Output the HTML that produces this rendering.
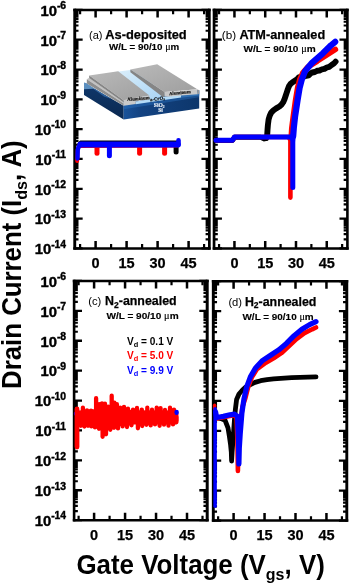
<!DOCTYPE html>
<html lang="en"><head><meta charset="utf-8"><title>Transfer curves</title>
<style>
html,body{margin:0;padding:0;background:#fff;}
body{width:350px;height:586px;overflow:hidden;}
svg{display:block;}
text{font-family:"Liberation Sans", Arial, Helvetica, sans-serif;font-weight:bold;fill:#000;}
.yt{font-size:14.6px;stroke:#000;stroke-width:0.4px;}
.sup{font-size:10.2px;}
.xt{font-size:14.5px;stroke:#000;stroke-width:0.25px;}
.ax{font-size:26px;}
.sub{font-size:17px;}
.pl{font-size:12.6px;stroke:#000;stroke-width:0.25px;}
.pn{font-size:11.7px;font-weight:normal;}
.wl{font-size:9.8px;stroke:#000;stroke-width:0.15px;}
.mu{font-family:"Liberation Serif","DejaVu Serif",serif;font-weight:normal;font-size:10px;}
.lg{font-size:10.1px;}
.ins{font-family:"Liberation Serif",serif;font-size:4.7px;fill:#111;stroke:#111;stroke-width:0.18px;}
.ins2{font-family:"Liberation Serif",serif;font-size:5.6px;fill:#eef4fb;stroke:#eef4fb;stroke-width:0.15px;}
</style></head><body>
<svg width="350" height="586" viewBox="0 0 350 586">
<rect width="350" height="586" fill="#fff"/>
<g id="inset"><defs><linearGradient id="gf" x1="0" y1="0" x2="1" y2="0"><stop offset="0" stop-color="#19539b"/><stop offset="0.22" stop-color="#134382"/><stop offset="1" stop-color="#0d366b"/></linearGradient><linearGradient id="gs" x1="0" y1="0" x2="0" y2="1"><stop offset="0" stop-color="#10386c"/><stop offset="1" stop-color="#0a2850"/></linearGradient><linearGradient id="gt" x1="0" y1="0" x2="1" y2="1"><stop offset="0" stop-color="#b9b9b9"/><stop offset="1" stop-color="#9f9f9f"/></linearGradient><linearGradient id="gc" x1="0" y1="0" x2="1" y2="1"><stop offset="0" stop-color="#dcf0fc"/><stop offset="1" stop-color="#a6d2f3"/></linearGradient></defs>
<polygon points="84,83 123.7,105.8 123.7,119.4 84,95" fill="url(#gs)"/>
<polygon points="123.7,101 199.2,90 199.2,108.6 123.7,119.4" fill="url(#gf)"/>
<polygon points="123.7,101 199.2,90 199.2,97.2 123.7,109.2" fill="rgba(48,120,200,0.38)"/>
<polygon points="181,94.6 199.2,91.2 199.2,95.6 181,97.8" fill="#2f6fb2"/>
<polygon points="84,82.4 86.8,83.2 94.5,88.4 93,88.8 84,89.2" fill="#5b8fbf"/>
<polygon points="94.5,88.4 112,99.2 104,96.4 93,88.8" fill="#2c5f9a"/>
<polygon points="115,72 134,69.4 167,95.6 148,100.2" fill="url(#gc)"/>
<polygon points="135.7,101.5 149.4,99.2 164.6,96.8 181,94.5 181,97.6 135.7,104.2" fill="#b4dbf7"/>
<polygon points="86.8,79.2 89.2,77.8 123.7,102.6 123.7,103.4" fill="#c2c2c2"/>
<polygon points="86.8,79.2 123.7,103.4 123.7,105.8 86.8,83.4" fill="#8e8e8e"/>
<polygon points="89.2,75.6 118.2,71.3 149.4,95.6 123.7,100.3" fill="url(#gt)"/>
<polygon points="123.7,100.3 149.4,95.6 149.4,99.4 135.7,101.6 135.7,104.1 123.7,105.8" fill="#c9c9c9"/>
<polygon points="89.2,75.6 123.7,100.3 123.7,102.6 89.2,78.0" fill="#858585"/>
<polygon points="130.4,69.6 157.2,64.3 197.3,89.3 164.6,92" fill="url(#gt)"/>
<polygon points="164.6,92 197.3,89.3 197.7,94.3 181,95.4 168.6,96.8 164.6,96.6" fill="#c9c9c9"/>
<polygon points="130.4,69.6 164.6,92 164.6,96.8 162.8,97 130.4,72.2" fill="#858585"/>
<polygon points="197.3,89.3 199.2,90.2 199.2,93.8 197.7,94.3" fill="#9a9a9a"/>
<text x="138.5" y="100.1" class="ins" text-anchor="middle" transform="rotate(-5 138.5 100.1)" style="font-size:4.9px">Aluminum</text>
<text x="180" y="94.2" class="ins" text-anchor="middle" transform="rotate(-5 180 94.2)">Aluminum</text>
<text x="157.6" y="100.2" class="ins" text-anchor="middle" transform="rotate(-8 157.6 100.2)">a-CrO<tspan font-size="3.2" dy="0.9">x</tspan></text>
<text x="159.2" y="106.9" class="ins2" text-anchor="middle">SiO<tspan font-size="3.6" dy="0.9">2</tspan></text>
<text x="160.6" y="112.4" class="ins2" text-anchor="middle">Si</text></g>
<g id="fa"><path d="M74.75 248.40h7.9M209.35 248.40h-7.9M74.75 218.59h7.9M209.35 218.59h-7.9M74.75 188.78h7.9M209.35 188.78h-7.9M74.75 158.96h7.9M209.35 158.96h-7.9M74.75 129.15h7.9M209.35 129.15h-7.9M74.75 99.34h7.9M209.35 99.34h-7.9M74.75 69.53h7.9M209.35 69.53h-7.9M74.75 39.71h7.9M209.35 39.71h-7.9M74.75 9.90h7.9M209.35 9.90h-7.9" stroke="#000" stroke-width="2.3" fill="none"/>
<path d="M74.75 239.43h3.75M209.35 239.43h-3.75M74.75 234.18h3.75M209.35 234.18h-3.75M74.75 230.45h3.75M209.35 230.45h-3.75M74.75 227.56h3.75M209.35 227.56h-3.75M74.75 225.20h3.75M209.35 225.20h-3.75M74.75 223.21h3.75M209.35 223.21h-3.75M74.75 221.48h3.75M209.35 221.48h-3.75M74.75 219.95h3.75M209.35 219.95h-3.75M74.75 209.61h3.75M209.35 209.61h-3.75M74.75 204.36h3.75M209.35 204.36h-3.75M74.75 200.64h3.75M209.35 200.64h-3.75M74.75 197.75h3.75M209.35 197.75h-3.75M74.75 195.39h3.75M209.35 195.39h-3.75M74.75 193.39h3.75M209.35 193.39h-3.75M74.75 191.66h3.75M209.35 191.66h-3.75M74.75 190.14h3.75M209.35 190.14h-3.75M74.75 179.80h3.75M209.35 179.80h-3.75M74.75 174.55h3.75M209.35 174.55h-3.75M74.75 170.83h3.75M209.35 170.83h-3.75M74.75 167.94h3.75M209.35 167.94h-3.75M74.75 165.58h3.75M209.35 165.58h-3.75M74.75 163.58h3.75M209.35 163.58h-3.75M74.75 161.85h3.75M209.35 161.85h-3.75M74.75 160.33h3.75M209.35 160.33h-3.75M74.75 149.99h3.75M209.35 149.99h-3.75M74.75 144.74h3.75M209.35 144.74h-3.75M74.75 141.01h3.75M209.35 141.01h-3.75M74.75 138.12h3.75M209.35 138.12h-3.75M74.75 135.76h3.75M209.35 135.76h-3.75M74.75 133.77h3.75M209.35 133.77h-3.75M74.75 132.04h3.75M209.35 132.04h-3.75M74.75 130.51h3.75M209.35 130.51h-3.75M74.75 120.18h3.75M209.35 120.18h-3.75M74.75 114.93h3.75M209.35 114.93h-3.75M74.75 111.20h3.75M209.35 111.20h-3.75M74.75 108.31h3.75M209.35 108.31h-3.75M74.75 105.95h3.75M209.35 105.95h-3.75M74.75 103.96h3.75M209.35 103.96h-3.75M74.75 102.23h3.75M209.35 102.23h-3.75M74.75 100.70h3.75M209.35 100.70h-3.75M74.75 90.36h3.75M209.35 90.36h-3.75M74.75 85.11h3.75M209.35 85.11h-3.75M74.75 81.39h3.75M209.35 81.39h-3.75M74.75 78.50h3.75M209.35 78.50h-3.75M74.75 76.14h3.75M209.35 76.14h-3.75M74.75 74.14h3.75M209.35 74.14h-3.75M74.75 72.41h3.75M209.35 72.41h-3.75M74.75 70.89h3.75M209.35 70.89h-3.75M74.75 60.55h3.75M209.35 60.55h-3.75M74.75 55.30h3.75M209.35 55.30h-3.75M74.75 51.58h3.75M209.35 51.58h-3.75M74.75 48.69h3.75M209.35 48.69h-3.75M74.75 46.33h3.75M209.35 46.33h-3.75M74.75 44.33h3.75M209.35 44.33h-3.75M74.75 42.60h3.75M209.35 42.60h-3.75M74.75 41.08h3.75M209.35 41.08h-3.75M74.75 30.74h3.75M209.35 30.74h-3.75M74.75 25.49h3.75M209.35 25.49h-3.75M74.75 21.76h3.75M209.35 21.76h-3.75M74.75 18.87h3.75M209.35 18.87h-3.75M74.75 16.51h3.75M209.35 16.51h-3.75M74.75 14.52h3.75M209.35 14.52h-3.75M74.75 12.79h3.75M209.35 12.79h-3.75M74.75 11.26h3.75M209.35 11.26h-3.75" stroke="#000" stroke-width="2.2" fill="none"/>
<path d="M95.60 9.90v7.5M95.60 248.40v-7.5M126.60 9.90v7.5M126.60 248.40v-7.5M157.60 9.90v7.5M157.60 248.40v-7.5M188.60 9.90v7.5M188.60 248.40v-7.5" stroke="#000" stroke-width="2.5" fill="none"/>
<path d="M80.10 9.90v4.3M80.10 248.40v-4.3M111.10 9.90v4.3M111.10 248.40v-4.3M142.10 9.90v4.3M142.10 248.40v-4.3M173.10 9.90v4.3M173.10 248.40v-4.3M204.10 9.90v4.3M204.10 248.40v-4.3" stroke="#000" stroke-width="2.2" fill="none"/>
<path d="M74.75 8.68V249.62" stroke="#000" stroke-width="2.9" fill="none"/>
<path d="M209.35 8.68V249.62" stroke="#000" stroke-width="2.7" fill="none"/>
<path d="M73.30 9.90H210.70M73.30 248.40H210.70" stroke="#000" stroke-width="2.45" fill="none"/></g>
<g id="fb"><path d="M214.05 248.40h7.9M347.40 248.40h-7.9M214.05 218.59h7.9M347.40 218.59h-7.9M214.05 188.78h7.9M347.40 188.78h-7.9M214.05 158.96h7.9M347.40 158.96h-7.9M214.05 129.15h7.9M347.40 129.15h-7.9M214.05 99.34h7.9M347.40 99.34h-7.9M214.05 69.53h7.9M347.40 69.53h-7.9M214.05 39.71h7.9M347.40 39.71h-7.9M214.05 9.90h7.9M347.40 9.90h-7.9" stroke="#000" stroke-width="2.3" fill="none"/>
<path d="M214.05 239.43h3.75M347.40 239.43h-3.75M214.05 234.18h3.75M347.40 234.18h-3.75M214.05 230.45h3.75M347.40 230.45h-3.75M214.05 227.56h3.75M347.40 227.56h-3.75M214.05 225.20h3.75M347.40 225.20h-3.75M214.05 223.21h3.75M347.40 223.21h-3.75M214.05 221.48h3.75M347.40 221.48h-3.75M214.05 219.95h3.75M347.40 219.95h-3.75M214.05 209.61h3.75M347.40 209.61h-3.75M214.05 204.36h3.75M347.40 204.36h-3.75M214.05 200.64h3.75M347.40 200.64h-3.75M214.05 197.75h3.75M347.40 197.75h-3.75M214.05 195.39h3.75M347.40 195.39h-3.75M214.05 193.39h3.75M347.40 193.39h-3.75M214.05 191.66h3.75M347.40 191.66h-3.75M214.05 190.14h3.75M347.40 190.14h-3.75M214.05 179.80h3.75M347.40 179.80h-3.75M214.05 174.55h3.75M347.40 174.55h-3.75M214.05 170.83h3.75M347.40 170.83h-3.75M214.05 167.94h3.75M347.40 167.94h-3.75M214.05 165.58h3.75M347.40 165.58h-3.75M214.05 163.58h3.75M347.40 163.58h-3.75M214.05 161.85h3.75M347.40 161.85h-3.75M214.05 160.33h3.75M347.40 160.33h-3.75M214.05 149.99h3.75M347.40 149.99h-3.75M214.05 144.74h3.75M347.40 144.74h-3.75M214.05 141.01h3.75M347.40 141.01h-3.75M214.05 138.12h3.75M347.40 138.12h-3.75M214.05 135.76h3.75M347.40 135.76h-3.75M214.05 133.77h3.75M347.40 133.77h-3.75M214.05 132.04h3.75M347.40 132.04h-3.75M214.05 130.51h3.75M347.40 130.51h-3.75M214.05 120.18h3.75M347.40 120.18h-3.75M214.05 114.93h3.75M347.40 114.93h-3.75M214.05 111.20h3.75M347.40 111.20h-3.75M214.05 108.31h3.75M347.40 108.31h-3.75M214.05 105.95h3.75M347.40 105.95h-3.75M214.05 103.96h3.75M347.40 103.96h-3.75M214.05 102.23h3.75M347.40 102.23h-3.75M214.05 100.70h3.75M347.40 100.70h-3.75M214.05 90.36h3.75M347.40 90.36h-3.75M214.05 85.11h3.75M347.40 85.11h-3.75M214.05 81.39h3.75M347.40 81.39h-3.75M214.05 78.50h3.75M347.40 78.50h-3.75M214.05 76.14h3.75M347.40 76.14h-3.75M214.05 74.14h3.75M347.40 74.14h-3.75M214.05 72.41h3.75M347.40 72.41h-3.75M214.05 70.89h3.75M347.40 70.89h-3.75M214.05 60.55h3.75M347.40 60.55h-3.75M214.05 55.30h3.75M347.40 55.30h-3.75M214.05 51.58h3.75M347.40 51.58h-3.75M214.05 48.69h3.75M347.40 48.69h-3.75M214.05 46.33h3.75M347.40 46.33h-3.75M214.05 44.33h3.75M347.40 44.33h-3.75M214.05 42.60h3.75M347.40 42.60h-3.75M214.05 41.08h3.75M347.40 41.08h-3.75M214.05 30.74h3.75M347.40 30.74h-3.75M214.05 25.49h3.75M347.40 25.49h-3.75M214.05 21.76h3.75M347.40 21.76h-3.75M214.05 18.87h3.75M347.40 18.87h-3.75M214.05 16.51h3.75M347.40 16.51h-3.75M214.05 14.52h3.75M347.40 14.52h-3.75M214.05 12.79h3.75M347.40 12.79h-3.75M214.05 11.26h3.75M347.40 11.26h-3.75" stroke="#000" stroke-width="2.2" fill="none"/>
<path d="M234.45 9.90v7.5M234.45 248.40v-7.5M265.22 9.90v7.5M265.22 248.40v-7.5M295.99 9.90v7.5M295.99 248.40v-7.5M326.76 9.90v7.5M326.76 248.40v-7.5" stroke="#000" stroke-width="2.5" fill="none"/>
<path d="M219.06 9.90v4.3M219.06 248.40v-4.3M249.83 9.90v4.3M249.83 248.40v-4.3M280.61 9.90v4.3M280.61 248.40v-4.3M311.38 9.90v4.3M311.38 248.40v-4.3M342.14 9.90v4.3M342.14 248.40v-4.3" stroke="#000" stroke-width="2.2" fill="none"/>
<path d="M214.05 8.68V249.62" stroke="#000" stroke-width="2.7" fill="none"/>
<path d="M347.40 8.68V249.62" stroke="#000" stroke-width="2.6" fill="none"/>
<path d="M212.70 9.90H348.70M212.70 248.40H348.70" stroke="#000" stroke-width="2.45" fill="none"/></g>
<g id="fc"><path d="M74.10 520.15h7.9M207.20 520.15h-7.9M74.10 490.25h7.9M207.20 490.25h-7.9M74.10 460.35h7.9M207.20 460.35h-7.9M74.10 430.45h7.9M207.20 430.45h-7.9M74.10 400.55h7.9M207.20 400.55h-7.9M74.10 370.65h7.9M207.20 370.65h-7.9M74.10 340.75h7.9M207.20 340.75h-7.9M74.10 310.85h7.9M207.20 310.85h-7.9M74.10 280.95h7.9M207.20 280.95h-7.9" stroke="#000" stroke-width="2.3" fill="none"/>
<path d="M74.10 511.15h3.75M207.20 511.15h-3.75M74.10 505.88h3.75M207.20 505.88h-3.75M74.10 502.15h3.75M207.20 502.15h-3.75M74.10 499.25h3.75M207.20 499.25h-3.75M74.10 496.88h3.75M207.20 496.88h-3.75M74.10 494.88h3.75M207.20 494.88h-3.75M74.10 493.15h3.75M207.20 493.15h-3.75M74.10 491.62h3.75M207.20 491.62h-3.75M74.10 481.25h3.75M207.20 481.25h-3.75M74.10 475.98h3.75M207.20 475.98h-3.75M74.10 472.25h3.75M207.20 472.25h-3.75M74.10 469.35h3.75M207.20 469.35h-3.75M74.10 466.98h3.75M207.20 466.98h-3.75M74.10 464.98h3.75M207.20 464.98h-3.75M74.10 463.25h3.75M207.20 463.25h-3.75M74.10 461.72h3.75M207.20 461.72h-3.75M74.10 451.35h3.75M207.20 451.35h-3.75M74.10 446.08h3.75M207.20 446.08h-3.75M74.10 442.35h3.75M207.20 442.35h-3.75M74.10 439.45h3.75M207.20 439.45h-3.75M74.10 437.08h3.75M207.20 437.08h-3.75M74.10 435.08h3.75M207.20 435.08h-3.75M74.10 433.35h3.75M207.20 433.35h-3.75M74.10 431.82h3.75M207.20 431.82h-3.75M74.10 421.45h3.75M207.20 421.45h-3.75M74.10 416.18h3.75M207.20 416.18h-3.75M74.10 412.45h3.75M207.20 412.45h-3.75M74.10 409.55h3.75M207.20 409.55h-3.75M74.10 407.18h3.75M207.20 407.18h-3.75M74.10 405.18h3.75M207.20 405.18h-3.75M74.10 403.45h3.75M207.20 403.45h-3.75M74.10 401.92h3.75M207.20 401.92h-3.75M74.10 391.55h3.75M207.20 391.55h-3.75M74.10 386.28h3.75M207.20 386.28h-3.75M74.10 382.55h3.75M207.20 382.55h-3.75M74.10 379.65h3.75M207.20 379.65h-3.75M74.10 377.28h3.75M207.20 377.28h-3.75M74.10 375.28h3.75M207.20 375.28h-3.75M74.10 373.55h3.75M207.20 373.55h-3.75M74.10 372.02h3.75M207.20 372.02h-3.75M74.10 361.65h3.75M207.20 361.65h-3.75M74.10 356.38h3.75M207.20 356.38h-3.75M74.10 352.65h3.75M207.20 352.65h-3.75M74.10 349.75h3.75M207.20 349.75h-3.75M74.10 347.38h3.75M207.20 347.38h-3.75M74.10 345.38h3.75M207.20 345.38h-3.75M74.10 343.65h3.75M207.20 343.65h-3.75M74.10 342.12h3.75M207.20 342.12h-3.75M74.10 331.75h3.75M207.20 331.75h-3.75M74.10 326.48h3.75M207.20 326.48h-3.75M74.10 322.75h3.75M207.20 322.75h-3.75M74.10 319.85h3.75M207.20 319.85h-3.75M74.10 317.48h3.75M207.20 317.48h-3.75M74.10 315.48h3.75M207.20 315.48h-3.75M74.10 313.75h3.75M207.20 313.75h-3.75M74.10 312.22h3.75M207.20 312.22h-3.75M74.10 301.85h3.75M207.20 301.85h-3.75M74.10 296.58h3.75M207.20 296.58h-3.75M74.10 292.85h3.75M207.20 292.85h-3.75M74.10 289.95h3.75M207.20 289.95h-3.75M74.10 287.58h3.75M207.20 287.58h-3.75M74.10 285.58h3.75M207.20 285.58h-3.75M74.10 283.85h3.75M207.20 283.85h-3.75M74.10 282.32h3.75M207.20 282.32h-3.75" stroke="#000" stroke-width="2.2" fill="none"/>
<path d="M94.10 280.95v7.5M94.10 520.15v-7.5M125.07 280.95v7.5M125.07 520.15v-7.5M156.04 280.95v7.5M156.04 520.15v-7.5M187.01 280.95v7.5M187.01 520.15v-7.5" stroke="#000" stroke-width="2.5" fill="none"/>
<path d="M78.61 280.95v4.3M78.61 520.15v-4.3M109.58 280.95v4.3M109.58 520.15v-4.3M140.56 280.95v4.3M140.56 520.15v-4.3M171.52 280.95v4.3M171.52 520.15v-4.3M202.50 280.95v4.3M202.50 520.15v-4.3" stroke="#000" stroke-width="2.2" fill="none"/>
<path d="M74.10 279.72V521.38" stroke="#000" stroke-width="2.6" fill="none"/>
<path d="M207.20 279.72V521.38" stroke="#000" stroke-width="3.0" fill="none"/>
<path d="M72.80 280.95H208.70M72.80 520.15H208.70" stroke="#000" stroke-width="2.45" fill="none"/></g>
<g id="fd"><path d="M213.30 520.55h7.9M346.80 520.55h-7.9M213.30 490.63h7.9M346.80 490.63h-7.9M213.30 460.71h7.9M346.80 460.71h-7.9M213.30 430.79h7.9M346.80 430.79h-7.9M213.30 400.88h7.9M346.80 400.88h-7.9M213.30 370.96h7.9M346.80 370.96h-7.9M213.30 341.04h7.9M346.80 341.04h-7.9M213.30 311.12h7.9M346.80 311.12h-7.9M213.30 281.20h7.9M346.80 281.20h-7.9" stroke="#000" stroke-width="2.3" fill="none"/>
<path d="M213.30 511.54h3.75M346.80 511.54h-3.75M213.30 506.28h3.75M346.80 506.28h-3.75M213.30 502.54h3.75M346.80 502.54h-3.75M213.30 499.64h3.75M346.80 499.64h-3.75M213.30 497.27h3.75M346.80 497.27h-3.75M213.30 495.27h3.75M346.80 495.27h-3.75M213.30 493.53h3.75M346.80 493.53h-3.75M213.30 492.00h3.75M346.80 492.00h-3.75M213.30 481.62h3.75M346.80 481.62h-3.75M213.30 476.36h3.75M346.80 476.36h-3.75M213.30 472.62h3.75M346.80 472.62h-3.75M213.30 469.72h3.75M346.80 469.72h-3.75M213.30 467.35h3.75M346.80 467.35h-3.75M213.30 465.35h3.75M346.80 465.35h-3.75M213.30 463.61h3.75M346.80 463.61h-3.75M213.30 462.08h3.75M346.80 462.08h-3.75M213.30 451.71h3.75M346.80 451.71h-3.75M213.30 446.44h3.75M346.80 446.44h-3.75M213.30 442.70h3.75M346.80 442.70h-3.75M213.30 439.80h3.75M346.80 439.80h-3.75M213.30 437.43h3.75M346.80 437.43h-3.75M213.30 435.43h3.75M346.80 435.43h-3.75M213.30 433.69h3.75M346.80 433.69h-3.75M213.30 432.16h3.75M346.80 432.16h-3.75M213.30 421.79h3.75M346.80 421.79h-3.75M213.30 416.52h3.75M346.80 416.52h-3.75M213.30 412.78h3.75M346.80 412.78h-3.75M213.30 409.88h3.75M346.80 409.88h-3.75M213.30 407.51h3.75M346.80 407.51h-3.75M213.30 405.51h3.75M346.80 405.51h-3.75M213.30 403.77h3.75M346.80 403.77h-3.75M213.30 402.24h3.75M346.80 402.24h-3.75M213.30 391.87h3.75M346.80 391.87h-3.75M213.30 386.60h3.75M346.80 386.60h-3.75M213.30 382.86h3.75M346.80 382.86h-3.75M213.30 379.96h3.75M346.80 379.96h-3.75M213.30 377.59h3.75M346.80 377.59h-3.75M213.30 375.59h3.75M346.80 375.59h-3.75M213.30 373.86h3.75M346.80 373.86h-3.75M213.30 372.33h3.75M346.80 372.33h-3.75M213.30 361.95h3.75M346.80 361.95h-3.75M213.30 356.68h3.75M346.80 356.68h-3.75M213.30 352.94h3.75M346.80 352.94h-3.75M213.30 350.04h3.75M346.80 350.04h-3.75M213.30 347.67h3.75M346.80 347.67h-3.75M213.30 345.67h3.75M346.80 345.67h-3.75M213.30 343.94h3.75M346.80 343.94h-3.75M213.30 342.41h3.75M346.80 342.41h-3.75M213.30 332.03h3.75M346.80 332.03h-3.75M213.30 326.76h3.75M346.80 326.76h-3.75M213.30 323.02h3.75M346.80 323.02h-3.75M213.30 320.13h3.75M346.80 320.13h-3.75M213.30 317.76h3.75M346.80 317.76h-3.75M213.30 315.75h3.75M346.80 315.75h-3.75M213.30 314.02h3.75M346.80 314.02h-3.75M213.30 312.49h3.75M346.80 312.49h-3.75M213.30 302.11h3.75M346.80 302.11h-3.75M213.30 296.84h3.75M346.80 296.84h-3.75M213.30 293.11h3.75M346.80 293.11h-3.75M213.30 290.21h3.75M346.80 290.21h-3.75M213.30 287.84h3.75M346.80 287.84h-3.75M213.30 285.83h3.75M346.80 285.83h-3.75M213.30 284.10h3.75M346.80 284.10h-3.75M213.30 282.57h3.75M346.80 282.57h-3.75" stroke="#000" stroke-width="2.2" fill="none"/>
<path d="M233.60 281.20v7.5M233.60 520.55v-7.5M264.55 281.20v7.5M264.55 520.55v-7.5M295.50 281.20v7.5M295.50 520.55v-7.5M326.45 281.20v7.5M326.45 520.55v-7.5" stroke="#000" stroke-width="2.5" fill="none"/>
<path d="M218.12 281.20v4.3M218.12 520.55v-4.3M249.07 281.20v4.3M249.07 520.55v-4.3M280.02 281.20v4.3M280.02 520.55v-4.3M310.98 281.20v4.3M310.98 520.55v-4.3M341.93 281.20v4.3M341.93 520.55v-4.3" stroke="#000" stroke-width="2.2" fill="none"/>
<path d="M213.30 279.97V521.77" stroke="#000" stroke-width="2.9" fill="none"/>
<path d="M346.80 279.97V521.77" stroke="#000" stroke-width="2.9" fill="none"/>
<path d="M211.85 281.20H348.25M211.85 520.55H348.25" stroke="#000" stroke-width="2.45" fill="none"/></g>
<text transform="translate(66.1 254.20) scale(1.015 1)" text-anchor="end" class="yt">10<tspan class="sup" dy="-6.5">-14</tspan></text>
<text transform="translate(66.1 224.39) scale(1.015 1)" text-anchor="end" class="yt">10<tspan class="sup" dy="-6.5">-13</tspan></text>
<text transform="translate(66.1 194.58) scale(1.015 1)" text-anchor="end" class="yt">10<tspan class="sup" dy="-6.5">-12</tspan></text>
<text transform="translate(66.1 164.76) scale(1.015 1)" text-anchor="end" class="yt">10<tspan class="sup" dy="-6.5">-11</tspan></text>
<text transform="translate(66.1 134.95) scale(1.015 1)" text-anchor="end" class="yt">10<tspan class="sup" dy="-6.5">-10</tspan></text>
<text transform="translate(66.1 105.14) scale(1.015 1)" text-anchor="end" class="yt">10<tspan class="sup" dy="-6.5">-9</tspan></text>
<text transform="translate(66.1 75.33) scale(1.015 1)" text-anchor="end" class="yt">10<tspan class="sup" dy="-6.5">-8</tspan></text>
<text transform="translate(66.1 45.51) scale(1.015 1)" text-anchor="end" class="yt">10<tspan class="sup" dy="-6.5">-7</tspan></text>
<text transform="translate(66.1 15.70) scale(1.015 1)" text-anchor="end" class="yt">10<tspan class="sup" dy="-6.5">-6</tspan></text>
<text transform="translate(66.1 525.95) scale(1.015 1)" text-anchor="end" class="yt">10<tspan class="sup" dy="-6.5">-14</tspan></text>
<text transform="translate(66.1 496.05) scale(1.015 1)" text-anchor="end" class="yt">10<tspan class="sup" dy="-6.5">-13</tspan></text>
<text transform="translate(66.1 466.15) scale(1.015 1)" text-anchor="end" class="yt">10<tspan class="sup" dy="-6.5">-12</tspan></text>
<text transform="translate(66.1 436.25) scale(1.015 1)" text-anchor="end" class="yt">10<tspan class="sup" dy="-6.5">-11</tspan></text>
<text transform="translate(66.1 406.35) scale(1.015 1)" text-anchor="end" class="yt">10<tspan class="sup" dy="-6.5">-10</tspan></text>
<text transform="translate(66.1 376.45) scale(1.015 1)" text-anchor="end" class="yt">10<tspan class="sup" dy="-6.5">-9</tspan></text>
<text transform="translate(66.1 346.55) scale(1.015 1)" text-anchor="end" class="yt">10<tspan class="sup" dy="-6.5">-8</tspan></text>
<text transform="translate(66.1 316.65) scale(1.015 1)" text-anchor="end" class="yt">10<tspan class="sup" dy="-6.5">-7</tspan></text>
<text transform="translate(66.1 286.75) scale(1.015 1)" text-anchor="end" class="yt">10<tspan class="sup" dy="-6.5">-6</tspan></text>
<text x="95.60" y="268.3" text-anchor="middle" class="xt">0</text>
<text x="126.60" y="268.3" text-anchor="middle" class="xt">15</text>
<text x="157.60" y="268.3" text-anchor="middle" class="xt">30</text>
<text x="188.60" y="268.3" text-anchor="middle" class="xt">45</text>
<text x="234.45" y="268.3" text-anchor="middle" class="xt">0</text>
<text x="265.22" y="268.3" text-anchor="middle" class="xt">15</text>
<text x="295.99" y="268.3" text-anchor="middle" class="xt">30</text>
<text x="326.76" y="268.3" text-anchor="middle" class="xt">45</text>
<text x="94.10" y="540" text-anchor="middle" class="xt">0</text>
<text x="125.07" y="540" text-anchor="middle" class="xt">15</text>
<text x="156.04" y="540" text-anchor="middle" class="xt">30</text>
<text x="187.01" y="540" text-anchor="middle" class="xt">45</text>
<text x="233.60" y="540" text-anchor="middle" class="xt">0</text>
<text x="264.55" y="540" text-anchor="middle" class="xt">15</text>
<text x="295.50" y="540" text-anchor="middle" class="xt">30</text>
<text x="326.45" y="540" text-anchor="middle" class="xt">45</text>
<text x="76.4" y="574" class="ax" style="font-size:27.5px" textLength="248.4" lengthAdjust="spacingAndGlyphs">Gate Voltage (V<tspan class="sub" dy="6.2">gs</tspan><tspan dy="-6.2">, V)</tspan></text>
<text transform="translate(21.1 388.9) rotate(-90)" class="ax" style="font-size:27px" textLength="248.6" lengthAdjust="spacingAndGlyphs">Drain Current (I<tspan class="sub" dy="6">ds</tspan><tspan dy="-6">, A)</tspan></text>
<text x="89.0" y="39.0" class="pn" style="font-size:11.0px">(a)</text>
<text x="105.3" y="39.0" class="pl" style="font-size:12.85px">As-deposited</text>
<text x="109.1" y="49.9" class="wl" textLength="70.2" lengthAdjust="spacingAndGlyphs">W/L = 90/10 <tspan class="mu">μ</tspan>m</text>
<text x="221.8" y="39.1" class="pn" style="font-size:11.7px">(b)</text>
<text x="239.4" y="39.1" class="pl" style="font-size:12.7px">ATM-annealed</text>
<text x="243.5" y="52.2" class="wl" textLength="72.2" lengthAdjust="spacingAndGlyphs">W/L = 90/10 <tspan class="mu">μ</tspan>m</text>
<text x="88.2" y="305.3" class="pn" style="font-size:11.2px">(c)</text>
<text x="105.1" y="305.3" class="pl" style="font-size:12.4px">N<tspan font-size="8.5" dy="2.5">2</tspan><tspan dy="-2.5">-annealed</tspan></text>
<text x="106.4" y="319.0" class="wl" textLength="72.2" lengthAdjust="spacingAndGlyphs">W/L = 90/10 <tspan class="mu">μ</tspan>m</text>
<text x="228.4" y="305.9" class="pn" style="font-size:11.2px">(d)</text>
<text x="244.9" y="305.9" class="pl" style="font-size:12.4px">H<tspan font-size="8.5" dy="2.5">2</tspan><tspan dy="-2.5">-annealed</tspan></text>
<text x="242.5" y="320.2" class="wl" textLength="71.2" lengthAdjust="spacingAndGlyphs">W/L = 90/10 <tspan class="mu">μ</tspan>m</text>
<text x="127" y="344.6" class="lg" style="fill:#000">V<tspan font-size="7.4" dy="2">d</tspan><tspan dy="-2"> = 0.1 V</tspan></text>
<text x="127" y="359.3" class="lg" style="fill:#fe0000">V<tspan font-size="7.4" dy="2">d</tspan><tspan dy="-2"> = 5.0 V</tspan></text>
<text x="127" y="374.0" class="lg" style="fill:#0000fe">V<tspan font-size="7.4" dy="2">d</tspan><tspan dy="-2"> = 9.9 V</tspan></text>
<g id="ca"><path d="M79.0 144.0L80.5 142.3L176.5 142.2" stroke="#000" stroke-width="3.4" fill="none" stroke-linecap="round" stroke-linejoin="round" />
<path d="M176.1 146.0L176.1 152.0" stroke="#000" stroke-width="5.0" fill="none" stroke-linecap="round" stroke-linejoin="round" />
<path d="M77.2 161.0L77.7 150.0L79.0 146.0L177.0 145.5" stroke="#fe0000" stroke-width="4.0" fill="none" stroke-linecap="round" stroke-linejoin="round" />
<path d="M97.0 146.0L97.0 153.3" stroke="#fe0000" stroke-width="5.0" fill="none" stroke-linecap="round" stroke-linejoin="round" />
<path d="M139.6 146.0L139.6 153.3" stroke="#fe0000" stroke-width="5.0" fill="none" stroke-linecap="round" stroke-linejoin="round" />
<path d="M164.6 146.0L164.6 153.3" stroke="#fe0000" stroke-width="5.0" fill="none" stroke-linecap="round" stroke-linejoin="round" />
<path d="M80.5 144.5L177.6 144.5" stroke="#0000fe" stroke-width="6.2" fill="none" stroke-linecap="round" stroke-linejoin="round" />
<path d="M77.5 158.5L77.7 150.0L78.6 146.6L81.0 144.6" stroke="#0000fe" stroke-width="4.4" fill="none" stroke-linecap="round" stroke-linejoin="round" />
<path d="M109.4 146.0L109.4 155.8" stroke="#0000fe" stroke-width="5.0" fill="none" stroke-linecap="round" stroke-linejoin="round" />
<path d="M178.5 140.4L178.5 145.0" stroke="#0000fe" stroke-width="4.6" fill="none" stroke-linecap="round" stroke-linejoin="round" /></g>
<g id="cb"><path d="M216.0 140.4L232.5 140.4L234.5 137.3L260.5 137.3L264.3 138.9L266.4 138.6L267.1 136.6" stroke="#000" stroke-width="5.0" fill="none" stroke-linecap="round" stroke-linejoin="round" />
<path d="M267.1 136.6L267.5 130.0L267.9 125.0L268.6 119.5L269.7 115.7L271.2 112.6L273.4 110.4L276.2 108.4L279.4 106.5L281.4 104.8L283.1 102.4L284.4 99.6L285.5 96.3L286.8 92.4L287.9 89.0L289.0 86.2L290.4 84.1L292.6 82.2L295.2 80.5L297.2 79.2L298.9 77.3L302.0 76.4L305.0 76.2L308.6 75.4L310.4 73.6L312.2 72.5L314.8 72.0L317.1 70.8L319.5 70.5L321.9 69.4L324.4 68.9L326.8 67.5L329.2 66.8L331.6 65.0L333.8 63.6L335.6 61.6" stroke="#000" stroke-width="5.9" fill="none" stroke-linecap="round" stroke-linejoin="round" />
<path d="M216.0 140.2L232.5 140.2L234.5 137.0L288.5 137.0L290.4 140.0L290.4 197.6L290.4 140.0L291.5 134.0" stroke="#fe0000" stroke-width="4.6" fill="none" stroke-linecap="round" stroke-linejoin="round" />
<path d="M291.3 136.0L291.8 128.0L293.2 117.0L295.6 100.0L297.6 88.0L299.8 79.5L303.0 72.5L308.0 66.8L317.4 61.0L325.6 55.6L335.4 49.4" stroke="#fe0000" stroke-width="5.6" fill="none" stroke-linecap="round" stroke-linejoin="round" />
<path d="M216.0 140.2L232.5 140.2L234.5 136.9L291.0 136.9L292.8 140.0L292.8 187.4L292.8 142.0L293.3 134.3" stroke="#0000fe" stroke-width="5.0" fill="none" stroke-linecap="round" stroke-linejoin="round" />
<path d="M293.2 136.0L293.8 128.0L295.0 117.1L297.6 100.0L299.6 88.0L301.6 80.2L305.2 70.9L312.0 62.8L322.9 53.3L331.0 45.3L335.2 41.8" stroke="#0000fe" stroke-width="6.2" fill="none" stroke-linecap="round" stroke-linejoin="round" /></g>
<g id="cc"><path d="M76.0 413.6L80.0 413.8L92.0 412.8" stroke="#0000fe" stroke-width="4.4" fill="none" stroke-linecap="round" stroke-linejoin="round" />
<path d="M77.0 409.0L77.0 447.0" stroke="#fe0000" stroke-width="4.8" fill="none" stroke-linecap="round" stroke-linejoin="round" />
<polygon points="79,410.5 92,409.3 128,409.3 132,410.2 176,410.4 178.4,413 178.4,421 176,424.4 132,424.6 128,426 92,426 80,425.5 79,424" fill="#fe0000"/>
<path d="M82.9 417V407.75M87 417V410.35M91 417V410.75M96.1 417V398.25M99.3 417V404.15M102 417V403.45M105 417V403.75M108.2 417V406.65M111.7 417V395.75M114.4 417V402.65M116.9 417V404.15M120.2 417V407.75M124 417V406.85M128 417V408.75M133 417V409.75M137 417V407.95M141.8 417V409.55M147.3 417V407.75M152 417V409.75M156.7 417V407.75M160.6 417V408.15M165 417V409.95M170 417V407.75M174 417V409.55M80.8 417V425.85M84.4 417V426.55M88 417V425.85M91.4 417V426.45M95 417V427.45M99 417V428.85M102.6 417V436.85M106 417V434.35M110.3 417V429.85M114 417V427.85M118 417V428.45M122.6 417V426.45M127 417V427.05M131.5 417V425.25M137.9 417V428.35M142.2 417V426.05M146.4 417V424.85M150.7 417V425.45M155 417V424.45M159.6 417V425.85M164 417V424.65M168.5 417V425.65M173 417V424.45M176.4 417V422.35" stroke="#fe0000" stroke-width="4.3" fill="none" stroke-linecap="round"/>
<path d="M176.6 412.0L176.6 412.8" stroke="#0000fe" stroke-width="4.4" fill="none" stroke-linecap="round" stroke-linejoin="round" /></g>
<g id="cd"><path d="M216.0 417.6L221.0 418.6L225.1 420.4L228.0 427.9L229.4 436.4L230.6 445.0L231.3 452.0L231.6 461.0L232.1 452.0L232.6 445.0L233.7 430.7L234.4 420.7L235.4 409.3L236.6 399.5L239.0 394.0L242.7 389.7L246.0 386.8L250.4 384.6L255.0 382.4L260.7 380.7L267.0 379.6L273.6 378.9L291.6 377.6L316.0 376.9" stroke="#000" stroke-width="4.8" fill="none" stroke-linecap="round" stroke-linejoin="round" />
<path d="M216.5 418.6L223.4 417.2L233.6 415.2L236.6 417.4L237.4 440.0L237.9 471.0L238.5 440.0L240.2 425.0L242.4 407.0L245.4 398.0L248.2 387.0L252.0 377.0L257.0 369.0L265.9 362.7L273.6 358.3L281.3 353.2L289.0 346.0L296.7 338.8L304.4 333.1L312.1 329.3L316.0 327.5" stroke="#fe0000" stroke-width="4.6" fill="none" stroke-linecap="round" stroke-linejoin="round" />
<path d="M214.6 405.3L214.6 409.0" stroke="#fe0000" stroke-width="3.4" fill="none" stroke-linecap="round" stroke-linejoin="round" />
<path d="M215.1 408.8L215.1 506.2" stroke="#0000fe" stroke-width="3.5" fill="none" stroke-linecap="round" stroke-linejoin="round" />
<path d="M215.6 412.0L216.6 417.4L218.5 417.2L223.4 416.4L230.0 414.8L234.6 414.2L237.4 416.4L238.5 440.0L238.9 464.0L239.3 448.0L240.2 434.0L241.9 413.0L244.0 398.7L246.6 387.1L250.4 376.9L255.6 367.9L262.0 360.9L271.0 355.0L278.7 349.9L286.4 343.4L294.1 335.7L301.9 329.3L309.6 324.6L316.0 321.6" stroke="#0000fe" stroke-width="5.2" fill="none" stroke-linecap="round" stroke-linejoin="round" /></g>
</svg></body></html>
